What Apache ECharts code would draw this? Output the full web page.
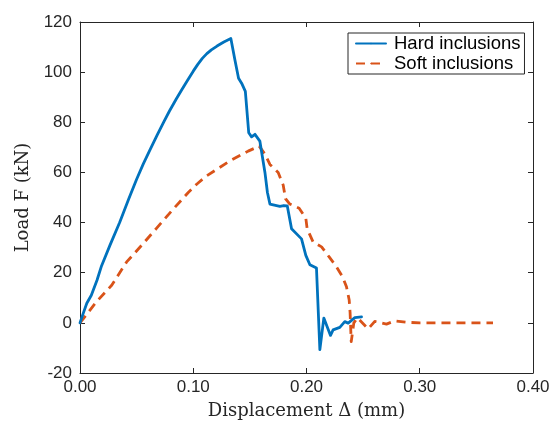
<!DOCTYPE html>
<html>
<head>
<meta charset="utf-8">
<script src="https://cdn.jsdelivr.net/npm/echarts@6/dist/echarts.min.js"></script>
<style>
  html, body { margin: 0; padding: 0; background: #ffffff; }
  #chart { width: 554px; height: 425px; }
</style>
</head>
<body>
<div id="chart"></div>
<script>
// Load-displacement response of the two inclusion types
const hardX = [0, 0.003, 0.006, 0.010, 0.015, 0.019, 0.0265, 0.035, 0.043, 0.050, 0.056, 0.062, 0.068, 0.074, 0.079, 0.085, 0.090, 0.095, 0.100, 0.104, 0.108, 0.112, 0.116, 0.121, 0.127, 0.1332, 0.1368, 0.140, 0.1427, 0.146, 0.149, 0.1515, 0.1545, 0.156, 0.1588, 0.1633, 0.1655, 0.1677, 0.1765, 0.180, 0.183, 0.1868, 0.1956, 0.1994, 0.203, 0.2088, 0.2118, 0.2153, 0.2212, 0.2235, 0.2294, 0.2338, 0.2368, 0.2427, 0.2486];
const hardY = [0, 4, 7.8, 11, 17, 22.7, 31, 40, 49.4, 57.3, 63.5, 69.2, 74.8, 80.2, 84.5, 89.3, 93.1, 96.8, 100.4, 103.1, 105.5, 107.4, 108.9, 110.4, 112.0, 113.4, 104.8, 97.6, 95.6, 92.3, 75.8, 74.2, 75.2, 75.8, 72.5, 60, 52, 47.4, 46.5, 46.8, 46.7, 37.5, 33.5, 26.9, 23.2, 21.9, -10.7, 1.9, -5, -2.8, -1.8, 0.5, -0.1, 2.1, 2.4];

const softX = [0, 0.0147, 0.028, 0.0412, 0.0544, 0.0677, 0.0824, 0.0956, 0.103, 0.1118, 0.1324, 0.1485, 0.1582, 0.163, 0.1677, 0.175, 0.1794, 0.1815, 0.1853, 0.1935, 0.1994, 0.2006, 0.2059, 0.2133, 0.220, 0.2259, 0.2318, 0.2353, 0.2377, 0.2385, 0.2395, 0.2418, 0.245, 0.2544, 0.2603, 0.2706, 0.278, 0.290, 0.300, 0.3647];
const softY = [0, 8.5, 15, 24.3, 30.9, 37.8, 45.4, 52, 55.3, 58.6, 64.6, 68.5, 70.5, 67.5, 63.2, 60, 55, 49.5, 47.4, 45.7, 41.7, 37.5, 32.2, 30.3, 26.3, 22.7, 18.4, 14.4, 9.1, 4, -7.5, 0, 2, -2.4, 0.6, -0.5, 0.8, 0.2, 0, 0];

const seriesNames = ['Hard inclusions', 'Soft inclusions'];
const xTicks = { min: 0, max: 0.4, step: 0.1 };
const yTicks = { min: -20, max: 120, step: 20 };

const pairs = (xs, ys) => xs.map((x, i) => [x, ys[i]]);

const axisColor = '#262626';
const tickFont = { fontFamily: 'Liberation Sans, Arial, sans-serif', fontSize: 17, color: '#262626' };
const titleFont = { fontFamily: 'DejaVu Serif, serif', fontSize: 18, color: '#262626' };

function valueAxis(pos, range, showLabels, extra) {
  return Object.assign({
    type: 'value',
    position: pos,
    min: range.min,
    max: range.max,
    interval: range.step,
    splitLine: { show: false },
    axisLine: { show: true, onZero: false, lineStyle: { color: axisColor, width: 1 } },
    axisTick: { show: true, inside: true, length: 5, lineStyle: { color: axisColor, width: 1 } },
    axisLabel: Object.assign({ show: showLabels }, tickFont)
  }, extra || {});
}

const chart = echarts.init(document.getElementById('chart'), null, { renderer: 'canvas' });
chart.setOption({
  animation: false,
  backgroundColor: '#ffffff',
  grid: { left: 80, right: 21, top: 22, bottom: 50, containLabel: false },
  xAxis: [
    valueAxis('bottom', xTicks, true, {
      name: 'Displacement Δ (mm)',
      nameLocation: 'middle',
      nameGap: 29,
      nameTextStyle: titleFont,
      axisLabel: Object.assign({ show: true, margin: 6, formatter: v => v.toFixed(2) }, tickFont)
    }),
    valueAxis('top', xTicks, false)
  ],
  yAxis: [
    valueAxis('left', yTicks, true, {
      name: 'Load F (kN)',
      nameLocation: 'middle',
      nameGap: 47,
      nameTextStyle: titleFont,
      axisLabel: Object.assign({ show: true, margin: 8 }, tickFont)
    }),
    valueAxis('right', yTicks, false)
  ],
  legend: {
    orient: 'vertical',
    left: 348,
    top: 33,
    padding: [1, 4, 1, 7],
    itemGap: 1,
    itemWidth: 30,
    itemHeight: 2,
    borderColor: axisColor,
    borderWidth: 1,
    backgroundColor: '#ffffff',
    textStyle: { fontFamily: 'Liberation Sans, Arial, sans-serif', fontSize: 18.5, color: '#000000', padding: [0, 0, 0, 3] },
    data: seriesNames
  },
  series: [
    {
      name: seriesNames[0],
      type: 'line',
      data: pairs(hardX, hardY),
      showSymbol: false,
      symbol: 'none',
      lineStyle: { color: '#0072BD', width: 2.8, cap: 'round', join: 'round' },
      itemStyle: { color: '#0072BD' },
      z: 3
    },
    {
      name: seriesNames[1],
      type: 'line',
      data: pairs(softX, softY),
      showSymbol: false,
      symbol: 'none',
      lineStyle: { color: '#D95319', width: 2.8, type: [9, 6], cap: 'butt', join: 'round' },
      itemStyle: { color: '#D95319' },
      z: 2
    }
  ]
});
</script>
</body>
</html>
